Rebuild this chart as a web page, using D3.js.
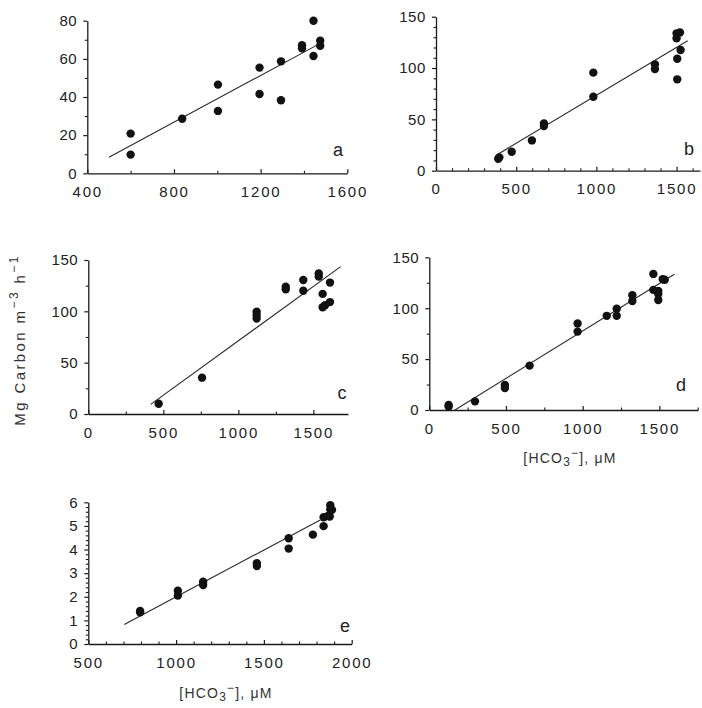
<!DOCTYPE html>
<html><head><meta charset="utf-8">
<script src="https://cdn.jsdelivr.net/npm/d3@7"></script>
<style>
html,body{margin:0;padding:0;background:#fff;}
svg{display:block;font-family:"Liberation Sans",Arial,sans-serif;}
</style></head>
<body>
<svg id="chart" width="702" height="708"></svg>
<script>
// ---- data ----
const panelNames = ["a","b","c","d","e"];

const aX = [600,600,838,1003,1003,1195,1195,1294,1294,1391,1391,1444,1444,1475,1475];
const aY = [20.8,9.8,28.6,46.5,32.7,55.4,41.6,58.7,38.3,67.1,65.5,80,61.5,69.5,66.9];
const aFit = [[500,8.4],[1460,67.2]];
const aXTicks = [400,800,1200,1600];
const aYTicks = [0,20,40,60,80];

const bX = [388,395,472,598,673,673,981,981,1365,1365,1500,1500,1521,1504,1504,1525];
const bY = [11.7,13,18.5,29.5,46,43.5,95.5,72,103.6,99,133.8,129,134.7,109,89,117.5];
const bFit = [[378,15.3],[1569,126.6]];
const bXTicks = [0,500,1000,1500];
const bYTicks = [0,50,100,150];

const cX = [469,758,1122,1122,1122,1316,1316,1433,1433,1536,1536,1562,1562,1578,1611,1611];
const cY = [10,35.4,99.7,96.4,93,124,121.4,130.5,120,137,133.8,117,104,106,128,109];
const cFit = [[416,9.4],[1682,143.5]];
const cXTicks = [0,500,1000,1500];
const cYTicks = [0,50,100,150];

const dX = [126,126,298,493,493,654,967,967,1157,1222,1222,1324,1324,1461,1461,1493,1493,1493,1522,1535];
const dY = [4.9,3.3,8.5,24.6,21.6,43.6,85,77,92.5,99.5,92.5,112.8,107,133.6,118,117,114,108,128.4,128];
const dFit = [[167,0],[1598,133.3]];
const dXTicks = [0,500,1000,1500];
const dYTicks = [0,50,100,150];

const eX = [795,795,1010,1010,1154,1154,1460,1460,1641,1641,1779,1840,1840,1865,1878,1878,1888,1875];
const eY = [1.34,1.4,2.26,2.05,2.64,2.5,3.42,3.3,4.48,4.04,4.63,4.99,5.37,5.42,5.88,5.7,5.68,5.4];
const eFit = [[705,0.83],[1821,5.25]];
const eXTicks = [500,1000,1500,2000];
const eYTicks = [0,1,2,3,4,5,6];

const yTitle = ["Mg Carbon m", "−3", " h", "−1"];
const xTitle = ["[HCO", "3", "−", "], μM"];

// ---- layout ----
const panels = [
  {name:"a", xs:aX, ys:aY, fit:aFit, xt:aXTicks, yt:aYTicks, xdom:[400,1600], ydom:[0,80], xminor:200, yminor:10,
   L:87.3, R:347.3, T:20.7, B:173.3, lab:[338,156]},
  {name:"b", xs:bX, ys:bY, fit:bFit, xt:bXTicks, yt:bYTicks, xdom:[0,1646], ydom:[0,150], xminor:100, yminor:10,
   L:436, R:700, T:16.7, B:170.7, lab:[689,155]},
  {name:"c", xs:cX, ys:cY, fit:cFit, xt:cXTicks, yt:cYTicks, xdom:[0,1731], ydom:[0,150], xminor:250, yminor:25,
   L:88.3, R:348, T:260, B:414, lab:[342,399]},
  {name:"d", xs:dX, ys:dY, fit:dFit, xt:dXTicks, yt:dYTicks, xdom:[0,1752], ydom:[0,150], xminor:250, yminor:25,
   L:429.3, R:698, T:257.3, B:410, lab:[681,391]},
  {name:"e", xs:eX, ys:eY, fit:eFit, xt:eXTicks, yt:eYTicks, xdom:[500,2000], ydom:[0,6], xminor:100, yminor:0.2,
   L:88.3, R:351.7, T:502.3, B:644, lab:[345,632]}
];

const svg = d3.select("#chart");
const ink = "#1a1a1a";

panels.forEach(p => {
  const x = d3.scaleLinear().domain(p.xdom).range([p.L, p.R]);
  const y = d3.scaleLinear().domain(p.ydom).range([p.B, p.T]);
  const g = svg.append("g");

  // minor ticks
  const xm = d3.range(p.xdom[0], p.xdom[1] + 1e-6, p.xminor).filter(v => !p.xt.includes(v));
  const ym = d3.range(p.ydom[0], p.ydom[1] + 1e-6, p.yminor).map(v => +v.toFixed(4)).filter(v => !p.yt.includes(v));
  g.append("g").attr("transform", `translate(0,${p.B})`)
    .call(d3.axisBottom(x).tickValues(xm).tickSize(-2.5).tickFormat(""))
    .call(s => s.select(".domain").remove())
    .selectAll("line").attr("stroke", ink).attr("stroke-width", 1.1);
  g.append("g").attr("transform", `translate(${p.L},0)`)
    .call(d3.axisLeft(y).tickValues(ym).tickSize(2.5).tickFormat(""))
    .call(s => s.select(".domain").remove())
    .selectAll("line").attr("stroke", ink).attr("stroke-width", 1.1);

  // major axes
  const xa = g.append("g").attr("transform", `translate(0,${p.B})`)
    .call(d3.axisBottom(x).tickValues(p.xt).tickSize(-4).tickPadding(13).tickSizeOuter(0).tickFormat(d3.format("d")));
  xa.select(".domain").attr("stroke", ink).attr("stroke-width", 1.3);
  xa.selectAll("line").attr("stroke", ink).attr("stroke-width", 1.2);
  xa.selectAll("text").attr("font-size", 15).attr("letter-spacing", 1.8).attr("fill", "#222")
    .attr("font-family", "'Liberation Sans',Arial,sans-serif");

  const ya = g.append("g").attr("transform", `translate(${p.L},0)`)
    .call(d3.axisLeft(y).tickValues(p.yt).tickSize(4).tickPadding(6).tickSizeOuter(0).tickFormat(d3.format("d")));
  ya.select(".domain").attr("stroke", ink).attr("stroke-width", 1.3);
  ya.selectAll("line").attr("stroke", ink).attr("stroke-width", 1.2);
  ya.selectAll("text").attr("font-size", 15).attr("letter-spacing", 0.6).attr("fill", "#222")
    .attr("font-family", "'Liberation Sans',Arial,sans-serif");

  // regression line
  g.append("path").datum(p.fit)
    .attr("d", d3.line().x(d => x(d[0])).y(d => y(d[1])))
    .attr("fill", "none").attr("stroke", "#2a2a2a").attr("stroke-width", 1.1);

  // points
  g.selectAll("circle.pt").data(p.xs.map((v, i) => [v, p.ys[i]]))
    .enter().append("circle").attr("class", "pt")
    .attr("cx", d => x(d[0])).attr("cy", d => y(d[1])).attr("r", 4.2)
    .attr("fill", "#111");

  // panel letter
  g.append("text").attr("x", p.lab[0]).attr("y", p.lab[1]).attr("text-anchor", "middle")
    .attr("font-size", 18).attr("fill", "#222").text(p.name);
});

// y title
const yt = svg.append("text")
  .attr("transform", "translate(25,340) rotate(-90)")
  .attr("text-anchor", "middle").attr("font-size", 15).attr("letter-spacing", 2.4).attr("fill", "#333");
yt.append("tspan").text(yTitle[0]);
yt.append("tspan").attr("baseline-shift", "super").attr("font-size", 12).text(yTitle[1]);
yt.append("tspan").text(yTitle[2]);
yt.append("tspan").attr("baseline-shift", "super").attr("font-size", 12).text(yTitle[3]);

// x titles
function xTitleAt(cx, by) {
  const t = svg.append("text").attr("x", cx).attr("y", by).attr("text-anchor", "middle")
    .attr("font-size", 14).attr("letter-spacing", 1.2).attr("fill", "#333");
  t.append("tspan").text(xTitle[0]);
  t.append("tspan").attr("dy", 3).attr("font-size", 12).text(xTitle[1]);
  t.append("tspan").attr("dy", -9).attr("font-size", 12).text(xTitle[2]);
  t.append("tspan").attr("dy", 6).text(xTitle[3]);
}
xTitleAt(570, 463);
xTitleAt(226, 698);
</script>
</body></html>
